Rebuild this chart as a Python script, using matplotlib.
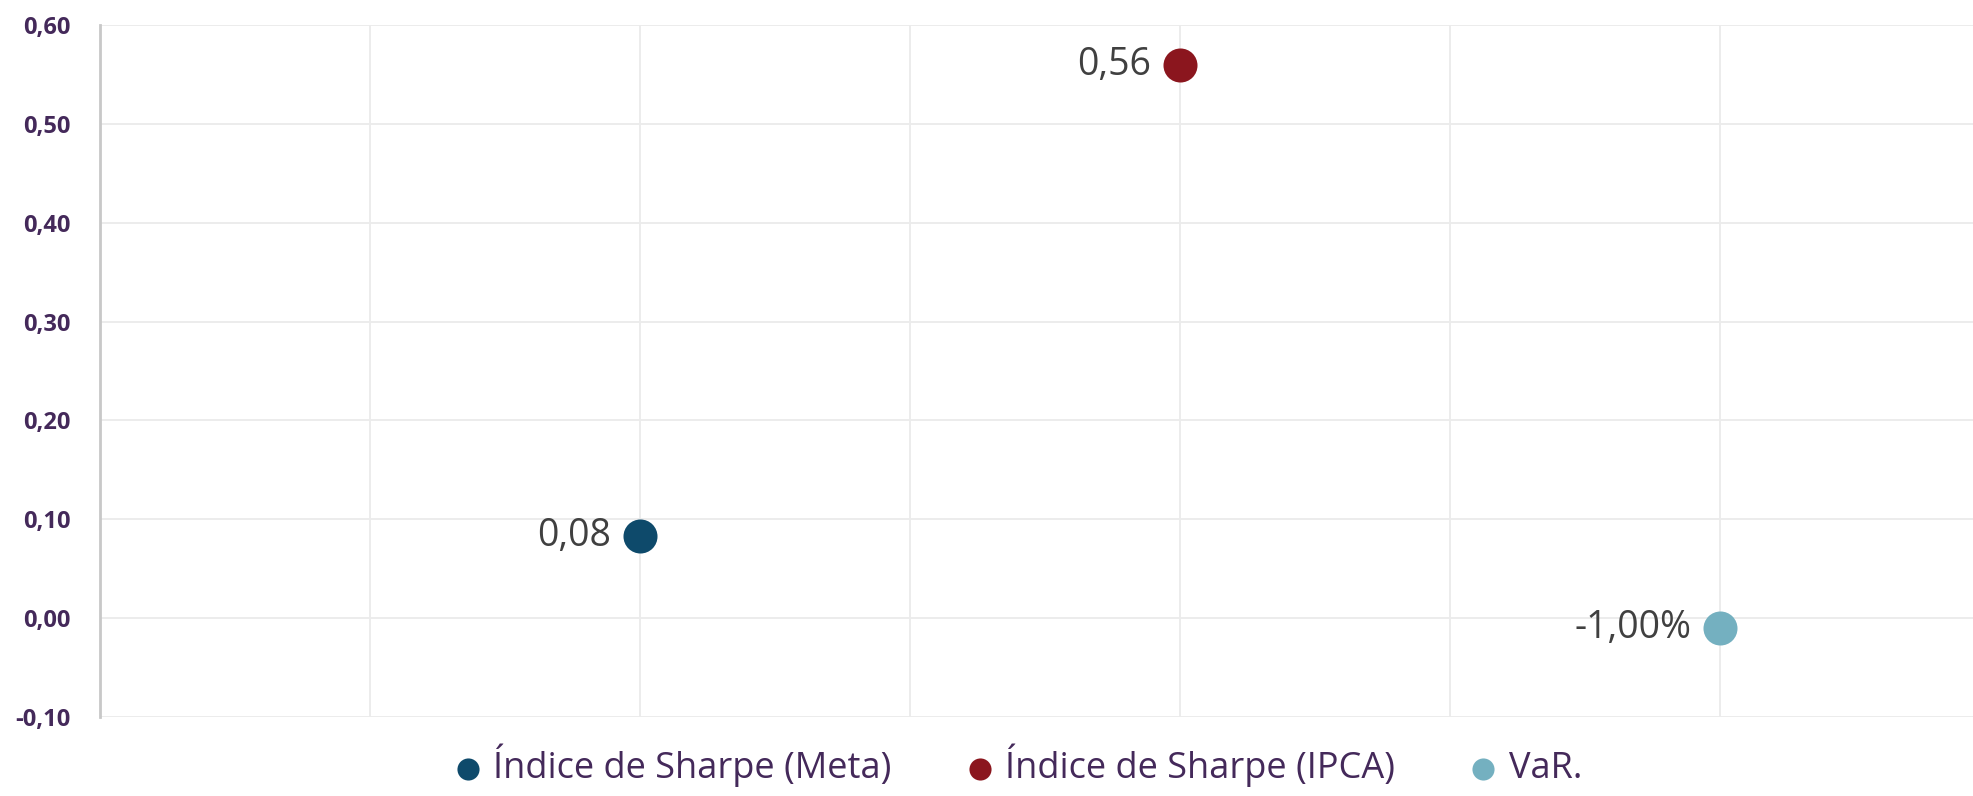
import matplotlib
matplotlib.use("Agg")
import matplotlib.pyplot as plt
from matplotlib.ticker import FuncFormatter, MultipleLocator

series = ["Índice de Sharpe (Meta)", "Índice de Sharpe (IPCA)", "VaR."]
x_pos = [2, 4, 6]
values = [0.083, 0.56, -0.01]
labels = ["0,08", "0,56", "-1,00%"]
colors = ["#0E4A6B", "#8B161E", "#74B0C0"]

plt.rcParams["font.family"] = ["Open Sans", "DejaVu Sans"]

fig = plt.figure(figsize=(19.74, 7.96), dpi=100)
ax = fig.add_axes([0.0507, 0.0992, 0.9493, 0.8694])

for xp, v, lab, c, name in zip(x_pos, values, labels, colors, series):
    ax.scatter([xp], [v], s=600, color=c, label=name, zorder=3, linewidths=0)
    ax.annotate(lab, (xp, v), xytext=(-21, 0), textcoords="offset points",
                ha="right", va="center", fontsize=27, color="#404040")

ax.set_xlim(0, 6.94)
ax.set_ylim(-0.10, 0.60)
ax.yaxis.set_major_locator(MultipleLocator(0.1))
ax.xaxis.set_major_locator(MultipleLocator(1))
ax.yaxis.set_major_formatter(FuncFormatter(lambda v, p: f"{v:.2f}".replace(".", ",").replace("-0,00", "0,00")))
ax.set_xticklabels([])
ax.grid(True, color="#EBEBEB", linewidth=1.3)
ax.set_axisbelow(True)
for s in ["top", "right", "bottom"]:
    ax.spines[s].set_visible(False)
ax.spines["left"].set_color("#C8C8C8")
ax.spines["left"].set_linewidth(2)
ax.tick_params(axis="both", length=0, pad=21)
for t in ax.get_yticklabels():
    t.set_fontweight("bold")
    t.set_fontsize(17)
    t.set_color("#44295A")

leg = fig.legend(loc="lower center", bbox_to_anchor=(0.51, -0.03), ncol=3, frameon=False,
                 fontsize=26, handletextpad=-0.3, columnspacing=1.45, markerscale=0.65)
for t in leg.get_texts():
    t.set_color("#44295A")

fig.savefig("out.png", dpi=100)
